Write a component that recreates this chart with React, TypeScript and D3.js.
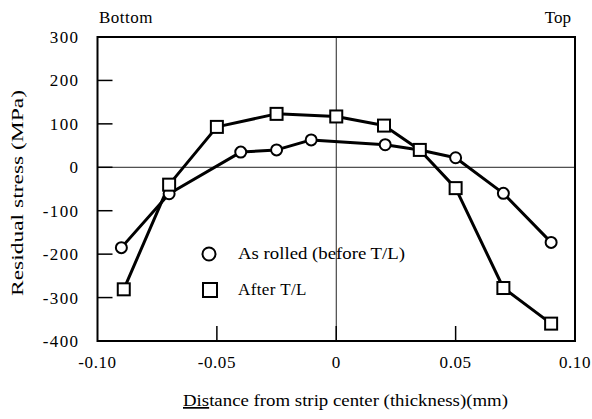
import React, { useRef, useEffect } from "react";
import * as d3 from "d3";

// data
const asRolledX = [-0.09, -0.07, -0.04, -0.025, -0.0105, 0.0205, 0.035, 0.05, 0.07, 0.09];
const asRolledY = [-185, -61, 35, 40, 63, 52, 40, 22, -60, -173];
const afterTLX = [-0.089, -0.07, -0.05, -0.025, 0.0, 0.02, 0.035, 0.05, 0.07, 0.09];
const afterTLY = [-281, -40, 93, 123, 117, 96, 40, -48, -278, -360];
const yTicks = [300, 200, 100, 0, -100, -200, -300, -400];
const xTicks = [-0.1, -0.05, 0, 0.05, 0.1];
const xTickLabels = ["-0.10", "-0.05", "0", "0.05", "0.10"];
const legendLabels = ["As rolled (before T/L)", "After T/L"];

const W = 592,
  H = 419;
const FONT = "'Liberation Serif', 'Times New Roman', serif";

const App = () => {
  const svgRef = useRef<SVGSVGElement>(null);

  useEffect(() => {
    const svg = d3.select(svgRef.current);
    svg.selectAll("*").remove();

    const x = d3.scaleLinear().domain([-0.1, 0.1]).range([97.5, 575]);
    const y = d3.scaleLinear().domain([-400, 300]).range([341, 37]);
    const [x0, x1] = x.range();
    const [y0, y1] = y.range();

    // zero lines
    svg.append("line")
      .attr("x1", x0).attr("x2", x1)
      .attr("y1", y(0)).attr("y2", y(0))
      .attr("stroke", "#222").attr("stroke-width", 1);
    svg.append("line")
      .attr("x1", x(0)).attr("x2", x(0))
      .attr("y1", y1).attr("y2", y0)
      .attr("stroke", "#222").attr("stroke-width", 1);

    // inner ticks on left axis
    svg.append("g")
      .selectAll("line")
      .data(yTicks.filter((t) => t !== 300 && t !== -400))
      .enter()
      .append("line")
      .attr("x1", x0).attr("x2", x0 + 15)
      .attr("y1", (d) => y(d)).attr("y2", (d) => y(d))
      .attr("stroke", "#000").attr("stroke-width", 1.5);

    // inner ticks on bottom axis
    svg.append("g")
      .selectAll("line")
      .data(xTicks.slice(1, -1))
      .enter()
      .append("line")
      .attr("x1", (d) => x(d)).attr("x2", (d) => x(d))
      .attr("y1", y0).attr("y2", y0 - 15)
      .attr("stroke", "#000").attr("stroke-width", 1.5);

    // frame
    svg.append("rect")
      .attr("x", x0).attr("y", y1)
      .attr("width", x1 - x0).attr("height", y0 - y1)
      .attr("fill", "none").attr("stroke", "#000").attr("stroke-width", 2);

    // tick labels
    svg.append("g")
      .selectAll("text")
      .data(yTicks)
      .enter()
      .append("text")
      .attr("x", 79.5)
      .attr("y", (d) => y(d))
      .attr("dy", "0.35em")
      .attr("text-anchor", "end")
      .attr("font-family", FONT)
      .attr("font-size", 17)
      .attr("letter-spacing", 1.4)
      .text((d) => String(d));

    svg.append("g")
      .selectAll("text")
      .data(xTicks)
      .enter()
      .append("text")
      .attr("x", (d) => x(d))
      .attr("y", 368)
      .attr("text-anchor", "middle")
      .attr("font-family", FONT)
      .attr("font-size", 17)
      .attr("letter-spacing", 0.6)
      .text((d, i) => xTickLabels[i]);

    // Bottom / Top
    svg.append("text")
      .attr("x", 99).attr("y", 23)
      .attr("font-family", FONT).attr("font-size", 17)
      .attr("letter-spacing", 0.5)
      .text("Bottom");
    svg.append("text")
      .attr("x", 571).attr("y", 23)
      .attr("text-anchor", "end")
      .attr("font-family", FONT).attr("font-size", 17)
      .text("Top");

    // axis titles
    svg.append("text")
      .attr("transform", "translate(23,193) rotate(-90)")
      .attr("text-anchor", "middle")
      .attr("font-family", FONT).attr("font-size", 17)
      .attr("textLength", 206)
      .attr("lengthAdjust", "spacingAndGlyphs")
      .text("Residual stress (MPa)");

    const xt = svg.append("text")
      .attr("x", 183).attr("y", 406)
      .attr("font-family", FONT).attr("font-size", 17)
      .attr("textLength", 325)
      .attr("lengthAdjust", "spacingAndGlyphs");
    xt.append("tspan").attr("text-decoration", "underline").text("Dis");
    xt.append("tspan").text("tance from strip center (thickness)(mm)");

    // series lines
    const line = d3.line<[number, number]>()
      .x((d) => x(d[0]))
      .y((d) => y(d[1]));
    const rolled: [number, number][] = asRolledX.map((v, i) => [v, asRolledY[i]]);
    const after: [number, number][] = afterTLX.map((v, i) => [v, afterTLY[i]]);

    [rolled, after].forEach((s) => {
      svg.append("path")
        .datum(s)
        .attr("d", line)
        .attr("fill", "none")
        .attr("stroke", "#000")
        .attr("stroke-width", 3)
        .attr("stroke-linejoin", "round");
    });

    // markers
    svg.append("g")
      .selectAll("circle")
      .data(rolled)
      .enter()
      .append("circle")
      .attr("cx", (d) => x(d[0]))
      .attr("cy", (d) => y(d[1]))
      .attr("r", 5.5)
      .attr("fill", "#fff")
      .attr("stroke", "#000")
      .attr("stroke-width", 2);

    svg.append("g")
      .selectAll("rect")
      .data(after)
      .enter()
      .append("rect")
      .attr("x", (d) => x(d[0]) - 6)
      .attr("y", (d) => y(d[1]) - 6)
      .attr("width", 12)
      .attr("height", 12)
      .attr("fill", "#fff")
      .attr("stroke", "#000")
      .attr("stroke-width", 2);

    // legend
    svg.append("circle")
      .attr("cx", 209).attr("cy", 254)
      .attr("r", 6.5)
      .attr("fill", "#fff").attr("stroke", "#000").attr("stroke-width", 2);
    svg.append("rect")
      .attr("x", 203).attr("y", 283)
      .attr("width", 14).attr("height", 14)
      .attr("fill", "#fff").attr("stroke", "#000").attr("stroke-width", 2);
    svg.append("text")
      .attr("x", 238).attr("y", 259)
      .attr("font-family", FONT).attr("font-size", 17)
      .attr("textLength", 167)
      .attr("lengthAdjust", "spacingAndGlyphs")
      .text(legendLabels[0]);
    svg.append("text")
      .attr("x", 238).attr("y", 295)
      .attr("font-family", FONT).attr("font-size", 17)
      .attr("letter-spacing", 0.4)
      .text(legendLabels[1]);
  }, []);

  return (
    <svg
      ref={svgRef}
      width={W}
      height={H}
      style={{ position: "absolute", left: 0, top: 0, background: "#fff" }}
    />
  );
};

export default App;
